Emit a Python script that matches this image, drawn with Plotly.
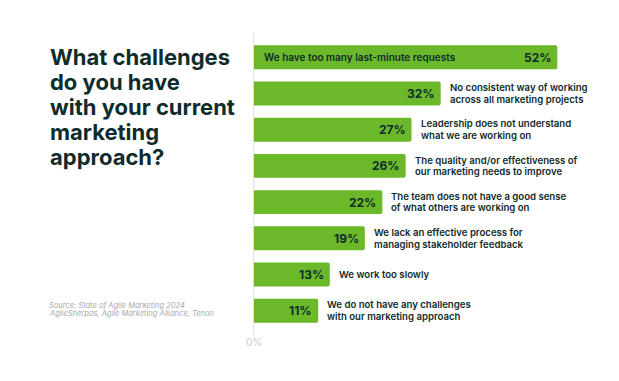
import plotly.graph_objects as go

categories = [
    "We have too many last-minute requests",
    "No consistent way of working<br>across all marketing projects",
    "Leadership does not understand<br>what we are working on",
    "The quality and/or effectiveness of<br>our marketing needs to improve",
    "The team does not have a good sense<br>of what others are working on",
    "We lack an effective process for<br>managing stakeholder feedback",
    "We work too slowly",
    "We do not have any challenges<br>with our marketing approach",
]
values = [52, 32, 27, 26, 22, 19, 13, 11]
x_tick_vals = [0]
x_tick_text = ["0%"]
title_lines = ["What challenges", "do you have", "with your current", "marketing", "approach?"]
source_lines = ["Source: State of Agile Marketing 2024",
                "AgileSherpas, Agile Marketing Alliance, Tenon"]

GREEN = "#6bb92a"
DARK = "#0f2b2c"
FONT = "Inter, Poppins, sans-serif"

W, H = 619, 381
ML, MR, MT, MB = 254, 15, 33, 46
paper_w = W - ML - MR
paper_h = H - MT - MB


def px_x(x):
    return (x - ML) / paper_w


def px_y(y):
    return (H - y - MB) / paper_h


fig = go.Figure()
fig.add_trace(go.Bar(
    x=values,
    y=list(range(len(categories))),
    orientation="h",
    marker=dict(color=GREEN, cornerradius=2, line=dict(width=0)),
    width=0.66,
    hoverinfo="skip",
))

annotations = []
LINE_GAP = 11.6
LABEL_SIZE = 9.6
for i, (cat, v) in enumerate(zip(categories, values)):
    annotations.append(dict(
        x=v, y=i, xref="x", yref="y", text=f"<b>{v}%</b>",
        showarrow=False, xanchor="right", xshift=-4,
        font=dict(family=FONT, size=12, color=DARK, weight=700),
    ))
    parts = cat.split("<br>")
    n = len(parts)
    for k, part in enumerate(parts):
        yshift = (n - 1) / 2 * LINE_GAP - k * LINE_GAP
        if i == 0:
            annotations.append(dict(
                x=0, y=i, xref="x", yref="y", text=part,
                showarrow=False, xanchor="left", xshift=8, yshift=yshift,
                font=dict(family=FONT, size=LABEL_SIZE + 0.4, color=DARK, weight=600),
            ))
        else:
            annotations.append(dict(
                x=v, y=i, xref="x", yref="y", text=part,
                showarrow=False, xanchor="left", xshift=7, yshift=yshift,
                font=dict(family=FONT, size=LABEL_SIZE, color=DARK, weight=600),
            ))

for k, line in enumerate(title_lines):
    annotations.append(dict(
        x=px_x(48), y=px_y(57 + 25 * k), xref="paper", yref="paper", text=line,
        showarrow=False, xanchor="left", yanchor="middle",
        font=dict(family=FONT, size=22, color=DARK, weight=700),
    ))

for k, line in enumerate(source_lines):
    annotations.append(dict(
        x=px_x(47), y=px_y(305 + 8 * k), xref="paper", yref="paper",
        text=f"<i>{line}</i>",
        showarrow=False, xanchor="left", yanchor="middle",
        font=dict(family=FONT, size=7.5, color="#a8a8a8"),
    ))

fig.update_layout(
    width=W, height=H,
    margin=dict(l=ML, r=MR, t=MT, b=MB),
    paper_bgcolor="white", plot_bgcolor="white",
    showlegend=False,
    hovermode=False,
    xaxis=dict(range=[0, 60], tickvals=x_tick_vals, ticktext=x_tick_text,
               showgrid=False, zeroline=False, showline=False,
               tickfont=dict(family=FONT, size=10, color="#c9c9c9"), fixedrange=True),
    yaxis=dict(range=[7.67, -0.67], showticklabels=False, showgrid=False,
               zeroline=False, showline=True, linecolor="#e2e2e2", linewidth=1,
               fixedrange=True),
    annotations=annotations,
)

fig.write_html("out.html", config={"displayModeBar": False},
               post_script="document.body.style.margin='0';")
